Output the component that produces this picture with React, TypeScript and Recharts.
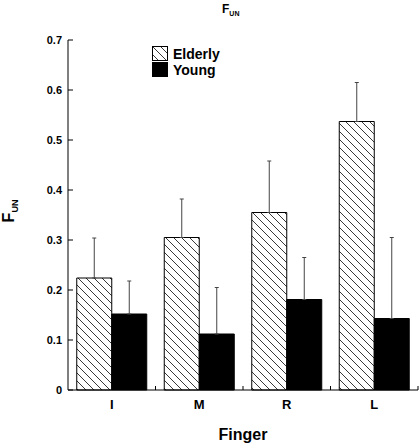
import React from 'react';
import { BarChart, Bar, XAxis, YAxis, ErrorBar, Legend } from 'recharts';

const fingers = ['I', 'M', 'R', 'L'];
const elderlyMeans = [0.224, 0.305, 0.355, 0.537];
const elderlyErr = [0.08, 0.077, 0.103, 0.078];
const youngMeans = [0.152, 0.112, 0.181, 0.143];
const youngErr = [0.066, 0.093, 0.084, 0.162];
const yTicks = [0, 0.1, 0.2, 0.3, 0.4, 0.5, 0.6, 0.7];

const data = fingers.map((finger, i) => ({
  finger,
  elderly: elderlyMeans[i],
  elderlyErr: [0, elderlyErr[i]],
  young: youngMeans[i],
  youngErr: [0, youngErr[i]],
}));

const font = '"Liberation Sans", Arial, Helvetica, sans-serif';

// ticks point inward, labels sit outside
const YTick = (props: any) => {
  const { x, y, payload } = props;
  return (
    <g>
      <line x1={x} y1={y} x2={x + 5} y2={y} stroke="#000" strokeWidth={1} />
      <text x={x - 6} y={y + 4} textAnchor="end" fontFamily={font} fontWeight="bold" fontSize={11} fill="#000">
        {payload.value === 0 ? '0' : payload.value.toFixed(1)}
      </text>
    </g>
  );
};

const XTick = (props: any) => {
  const { x, y, payload, width, visibleTicksCount } = props;
  const band = width / visibleTicksCount;
  const edge = x + band / 2;
  return (
    <g>
      <line x1={edge} y1={y} x2={edge} y2={y - 4} stroke="#000" strokeWidth={1} />
      <text x={x} y={y + 19} textAnchor="middle" fontFamily={font} fontWeight="bold" fontSize={13} fill="#000">
        {payload.value}
      </text>
    </g>
  );
};

const YLabel = (props: any) => {
  const { viewBox } = props;
  const cy = viewBox.y + viewBox.height / 2 - 4;
  return (
    <text
      transform={`translate(14, ${cy}) rotate(-90)`}
      textAnchor="middle"
      fontFamily={font}
      fontWeight="bold"
      fill="#000"
    >
      <tspan fontSize={16}>F</tspan>
      <tspan fontSize={9} dy={4}>UN</tspan>
    </text>
  );
};

const LegendBox = () => (
  <svg width={80} height={34} style={{ display: 'block' }}>
    <rect x={0.5} y={0.5} width={15} height={14} fill="url(#hatch)" stroke="#000" />
    <rect x={0.5} y={16.5} width={15} height={14} fill="#000" stroke="#000" />
    <text x={21} y={13} fontFamily={font} fontWeight="bold" fontSize={14} fill="#000">Elderly</text>
    <text x={21} y={29} fontFamily={font} fontWeight="bold" fontSize={14} fill="#000">Young</text>
  </svg>
);

export default function App() {
  return (
    <div style={{ position: 'absolute', left: 0, top: 0, width: 420, height: 444, background: '#fff' }}>
      <div
        style={{
          position: 'absolute',
          left: 222,
          top: 2,
          fontFamily: font,
          fontWeight: 'bold',
          fontSize: 12,
          color: '#000',
          zIndex: 2,
        }}
      >
        F<span style={{ fontSize: 7, verticalAlign: -3 }}>UN</span>
      </div>
      <BarChart
        width={420}
        height={444}
        data={data}
        margin={{ top: 40, right: 2, bottom: 0, left: 0 }}
        barCategoryGap="10%"
        barGap={0}
      >
        <defs>
          <pattern id="hatch" patternUnits="userSpaceOnUse" width={8} height={8}>
            <path d="M0,0 L8,8 M-2,6 L2,10 M6,-2 L10,2" stroke="#222" strokeWidth={0.9} />
          </pattern>
        </defs>
        <XAxis
          dataKey="finger"
          height={54}
          axisLine={{ stroke: '#000' }}
          tickLine={false}
          tickSize={0}
          tickMargin={0}
          tick={<XTick />}
          interval={0}
          label={{
            value: 'Finger',
            position: 'insideBottom',
            offset: 4,
            style: { fontFamily: font, fontWeight: 'bold', fontSize: 16, fill: '#000' },
          }}
        />
        <YAxis
          width={68}
          domain={[0, 0.7]}
          ticks={yTicks}
          axisLine={{ stroke: '#000' }}
          tickLine={false}
          tickSize={0}
          tickMargin={0}
          tick={<YTick />}
          interval={0}
          label={{ content: <YLabel /> }}
        />
        <Legend
          verticalAlign="middle"
          align="center"
          layout="horizontal"
          content={() => <LegendBox />}
          wrapperStyle={{ position: 'absolute', left: 152, top: 46, width: 80, height: 34 }}
        />
        <Bar dataKey="elderly" name="Elderly" fill="url(#hatch)" stroke="#000" strokeWidth={1} isAnimationActive={false}>
          <ErrorBar dataKey="elderlyErr" direction="y" width={2} stroke="#444" strokeWidth={1} />
        </Bar>
        <Bar dataKey="young" name="Young" fill="#000" stroke="#000" strokeWidth={1} isAnimationActive={false}>
          <ErrorBar dataKey="youngErr" direction="y" width={2} stroke="#444" strokeWidth={1} />
        </Bar>
      </BarChart>
    </div>
  );
}
